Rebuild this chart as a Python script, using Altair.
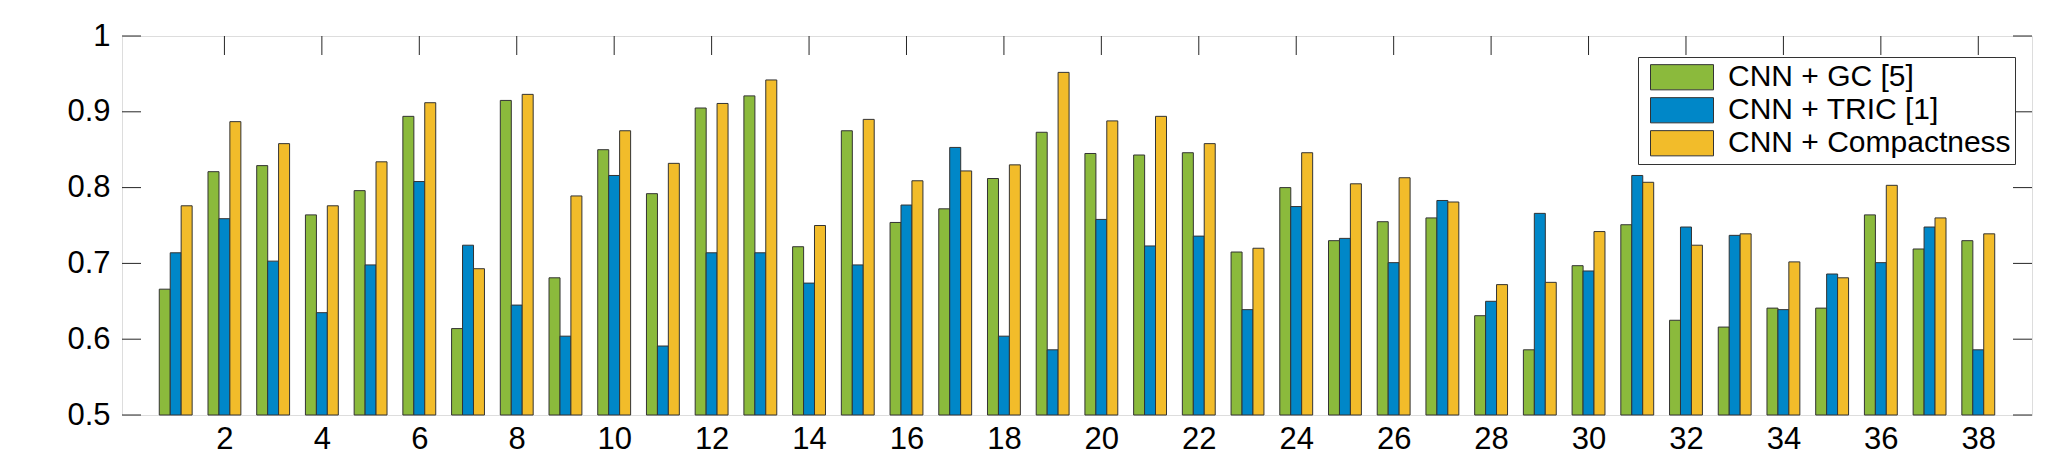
import altair as alt
import pandas as pd

groups = list(range(1, 39))
series_names = ["CNN + GC [5]", "CNN + TRIC [1]", "CNN + Compactness"]
colors = ["#8BBA3C", "#0087C8", "#F2BC2A"]

gc = [0.666, 0.821, 0.829, 0.764, 0.796, 0.894, 0.614, 0.915, 0.681, 0.850,
      0.792, 0.905, 0.921, 0.722, 0.875, 0.754, 0.772, 0.812, 0.873, 0.845,
      0.843, 0.846, 0.715, 0.800, 0.730, 0.755, 0.760, 0.631, 0.586, 0.697,
      0.751, 0.625, 0.616, 0.641, 0.641, 0.764, 0.719, 0.730]
tric = [0.714, 0.759, 0.703, 0.635, 0.698, 0.808, 0.724, 0.645, 0.604, 0.816,
        0.591, 0.714, 0.714, 0.674, 0.698, 0.777, 0.853, 0.604, 0.586, 0.758,
        0.723, 0.736, 0.639, 0.775, 0.733, 0.701, 0.783, 0.650, 0.766, 0.690,
        0.816, 0.748, 0.737, 0.639, 0.686, 0.701, 0.748, 0.586]
comp = [0.776, 0.887, 0.858, 0.776, 0.834, 0.912, 0.693, 0.923, 0.789, 0.875,
        0.832, 0.911, 0.942, 0.750, 0.890, 0.809, 0.822, 0.830, 0.952, 0.888,
        0.894, 0.858, 0.720, 0.846, 0.805, 0.813, 0.781, 0.672, 0.675, 0.742,
        0.807, 0.724, 0.739, 0.702, 0.681, 0.803, 0.760, 0.739]

x_ticks = list(range(2, 39, 2))
y_ticks = [0.5, 0.6, 0.7, 0.8, 0.9, 1.0]

rows = []
for k, (name, vals) in enumerate(zip(series_names, [gc, tric, comp])):
    for g, v in zip(groups, vals):
        rows.append({"group": g, "series": name, "k": k, "value": v})
df = pd.DataFrame(rows)

W, H = 1910, 379
FONT = "Liberation Sans"
TICK_COLOR = "#262626"

xscale = alt.Scale(domain=[0, 39], nice=False, zero=False)
yscale = alt.Scale(domain=[0.5, 1.0], nice=False, zero=False)

xaxis = alt.Axis(values=x_ticks, grid=False, ticks=False, tickSize=0, domain=False,
                 labelFontSize=31, labelFont=FONT, labelColor="black",
                 labelPadding=9, title=None)
yaxis = alt.Axis(values=y_ticks, grid=False, ticks=False, tickSize=0, domain=False,
                 format="~g", labelFontSize=31, labelFont=FONT, labelColor="black",
                 labelPadding=12, title=None)

ytick_df = pd.DataFrame({"v": y_ticks})
xtick_df = pd.DataFrame({"v": x_ticks})

left_ticks = alt.Chart(ytick_df).mark_rule(color=TICK_COLOR, strokeWidth=1).encode(
    y=alt.Y("v:Q", scale=yscale, axis=yaxis),
    x=alt.value(0), x2=alt.value(19))
right_ticks = alt.Chart(ytick_df).mark_rule(color=TICK_COLOR, strokeWidth=1).encode(
    y=alt.Y("v:Q", scale=yscale),
    x=alt.value(W - 19), x2=alt.value(W))
top_ticks = alt.Chart(xtick_df).mark_rule(color=TICK_COLOR, strokeWidth=1).encode(
    x=alt.X("v:Q", scale=xscale, axis=xaxis),
    y=alt.value(0), y2=alt.value(19))

bars = alt.Chart(df).transform_calculate(
    pos="datum.group + (datum.k - 1) * 0.2245"
).mark_bar(size=11, stroke="#333333", strokeWidth=1, opacity=1).encode(
    x=alt.X("pos:Q", scale=xscale, axis=xaxis),
    y=alt.Y("value:Q", scale=yscale, axis=yaxis),
    y2=alt.Y2(datum=0.5),
    color=alt.Color("series:N",
                    scale=alt.Scale(domain=series_names, range=colors),
                    sort=series_names,
                    legend=alt.Legend(
                        orient="none", legendX=1516, legendY=21, title=None,
                        symbolType="M-1,-0.4H1V0.4H-1Z", symbolSize=3969,
                        symbolStrokeWidth=1, symbolStrokeColor="#333333",
                        symbolOpacity=1,
                        clipHeight=32.5, rowPadding=0, padding=4,
                        symbolOffset=8, labelOffset=14,
                        labelFontSize=30, labelFont=FONT, labelColor="black",
                        labelLimit=500,
                        strokeColor="#333333", fillColor="white")),
)

chart = alt.layer(left_ticks, right_ticks, top_ticks, bars).properties(
    width=W, height=H,
    autosize=alt.AutoSizeParams(type="none"),
    padding={"left": 122, "top": 36, "right": 35, "bottom": 52},
).configure_view(stroke="black", strokeWidth=1.5).configure(background="white")

chart.save("out.html", embed_options={"renderer": "svg", "actions": False})
